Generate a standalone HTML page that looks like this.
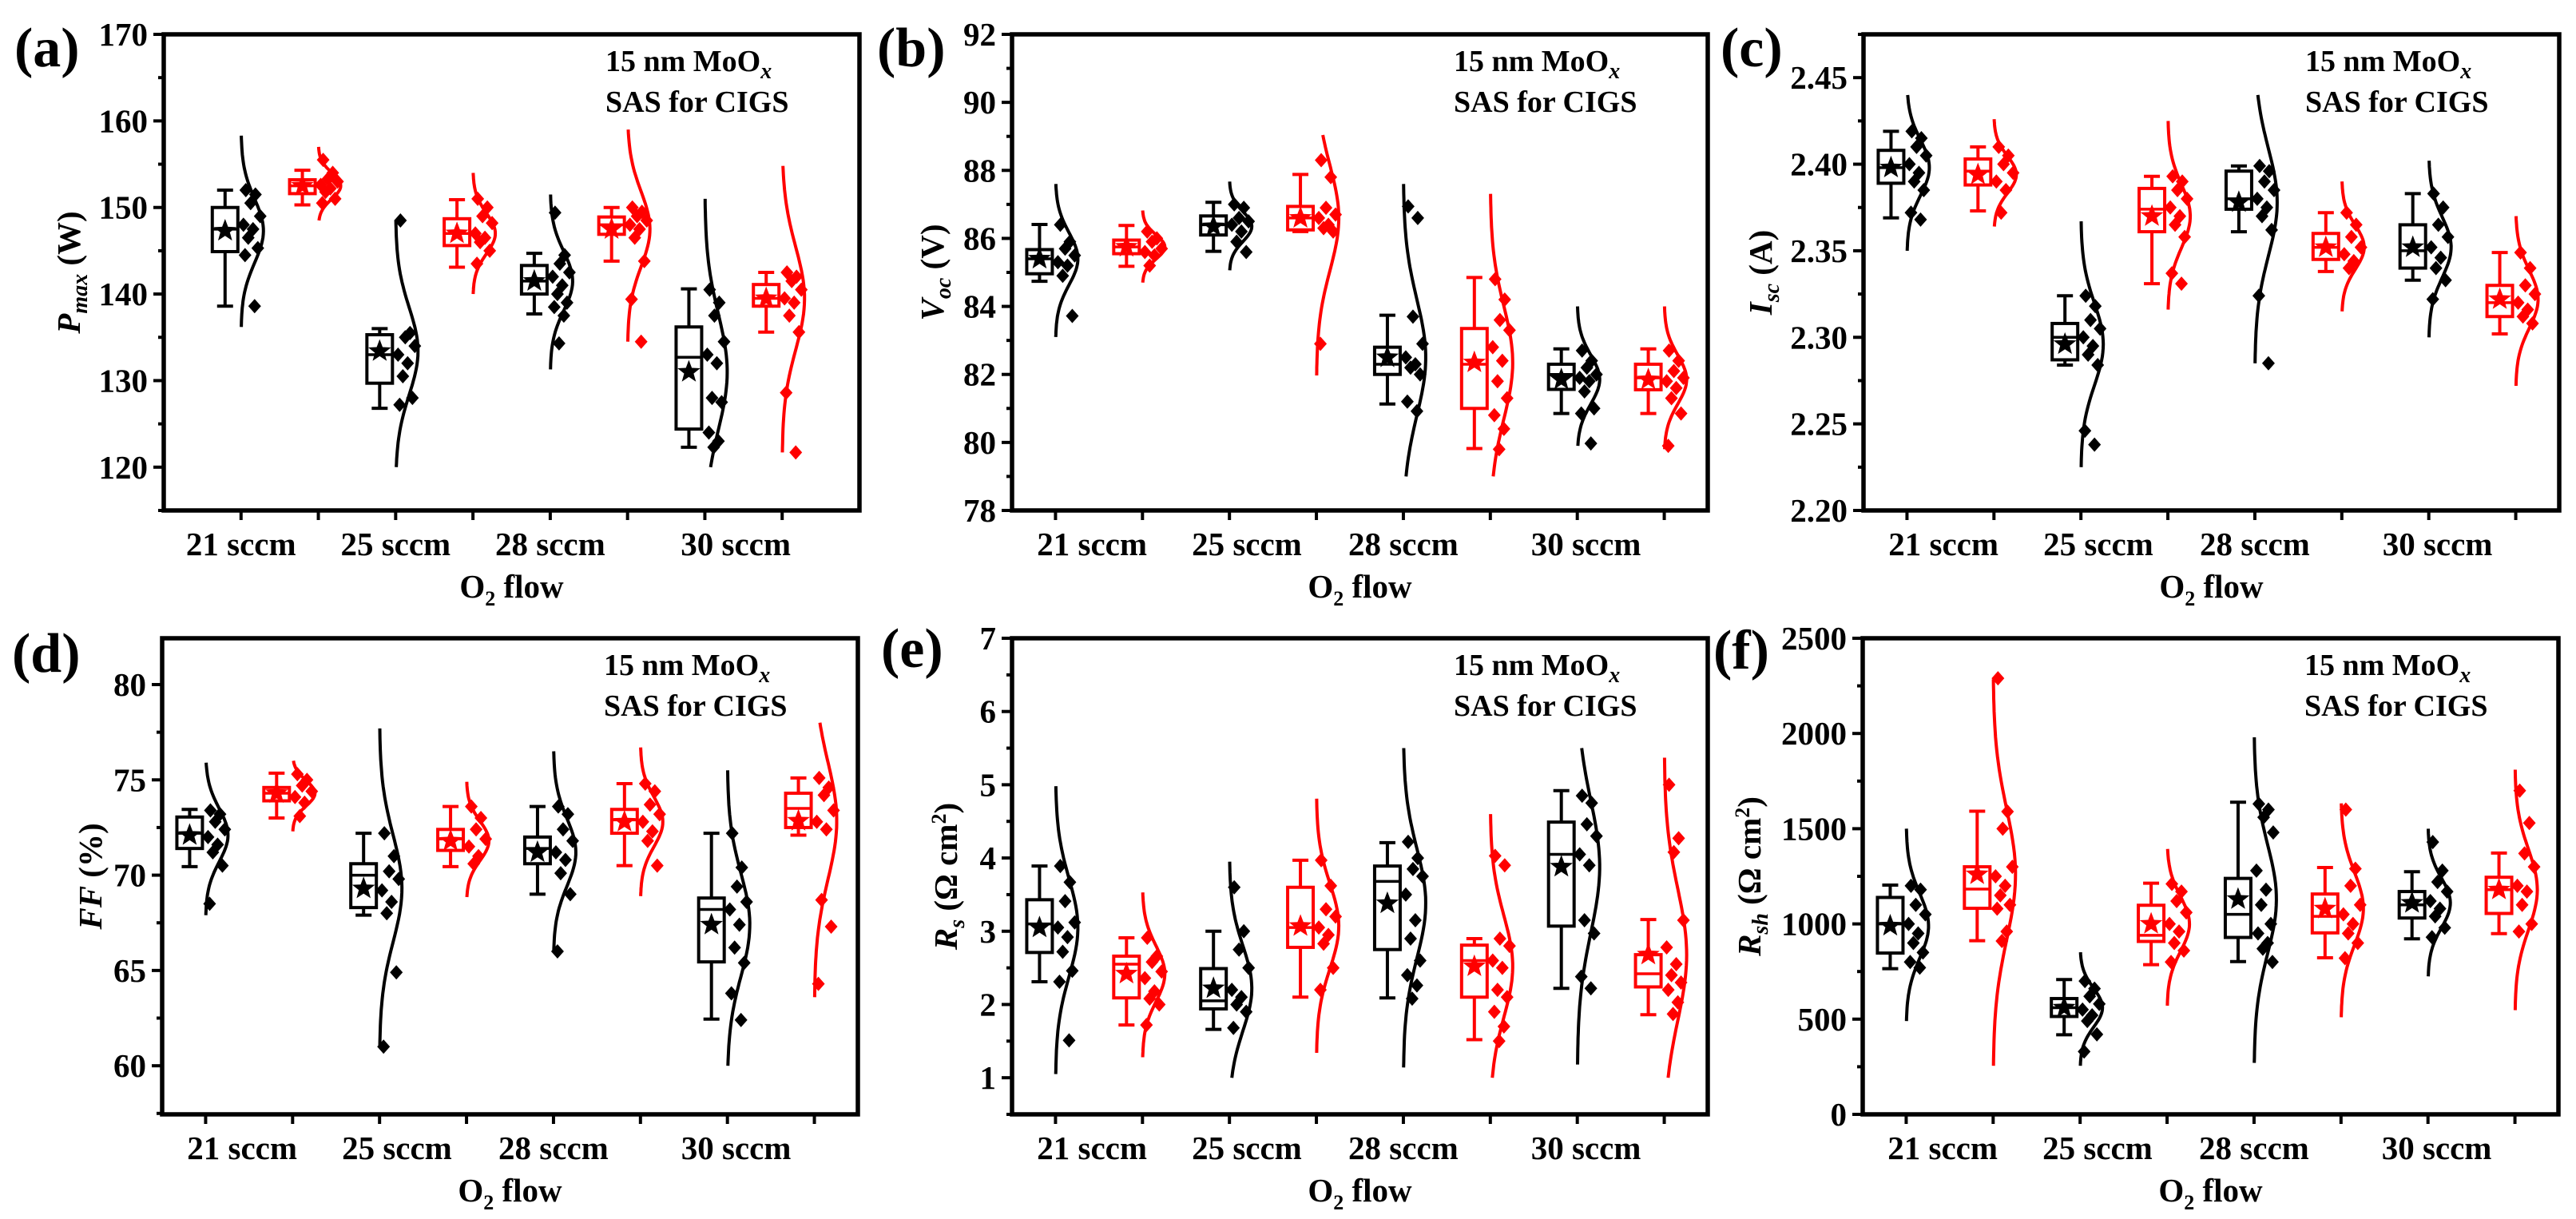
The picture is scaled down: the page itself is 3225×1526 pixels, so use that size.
<!DOCTYPE html>
<html><head><meta charset="utf-8"><title>O2 flow box plots</title>
<style>
html,body{margin:0;padding:0;background:#fff;}
svg{display:block;font-family:"Liberation Serif","DejaVu Serif",serif;font-weight:bold;}
</style></head>
<body>
<svg id="fig" xmlns="http://www.w3.org/2000/svg" width="3225" height="1526" viewBox="0 0 3225 1526"></svg>
<script>
// ---------- shared categories ----------
const categories = ["21 sccm","25 sccm","28 sccm","30 sccm"];
const seriesColors = ["#000000","#ff0000"]; // black = group 0, red = group 1 at each flow

// ---------- panel (a) Pmax ----------
const aQ1 = [144.9,151.6,129.7,145.6,140.0,146.9,124.4,138.6];
const aMed = [147.5,152.5,133.0,147.0,141.5,148.0,132.7,139.5];
const aQ3 = [150.0,153.2,135.3,148.7,143.3,148.9,136.2,141.1];
const aLo = [138.6,150.3,126.8,143.1,137.7,143.8,122.3,135.6];
const aHi = [152.0,154.3,136.0,150.9,144.7,150.0,140.6,142.5];
const aMean = [147.3,152.5,133.4,147.0,141.5,147.5,131.0,139.5];
const aPts = [[152,151.5,150.5,149,148,147.5,146.5,145.3,144.5,138.6],[155.5,154,153.3,153,152.6,152.2,151.8,151,150.5],[148.5,135.5,135,134,133,132,130.5,128,127.2],[151,150,149,148.2,147,146.5,146,145,143.5],[149.4,144.5,143.5,142.5,142,141,140,139,138.5,137.5,134.3],[150,149.5,149,148.5,148,147.5,146.5,143.8,139.4,134.5],[140.5,139,137.5,134.5,133,132,128,127.5,124,123,122.3],[142.5,142,141.5,140.5,139.5,139,137.5,135.6,128.6,121.7]];
const aCurveLo = [136.2,148.5,120.0,140.0,131.3,134.5,120.0,121.7];
const aCurveHi = [158.3,157.0,148.5,154.0,151.5,159.0,151.0,154.8];
const aTicks = ["120","130","140","150","160","170"];

// ---------- panel (b) Voc ----------
const bQ1 = [84.96,85.55,86.10,86.25,82.00,81.00,81.56,81.55];
const bMed = [85.4,85.75,86.4,86.6,82.3,82.3,82.0,81.9];
const bQ3 = [85.67,85.95,86.66,86.94,82.80,83.35,82.30,82.30];
const bLo = [84.74,85.18,85.62,86.20,81.13,79.82,80.85,80.85];
const bHi = [86.41,86.38,87.06,87.88,83.74,84.85,82.75,82.75];
const bMean = [85.4,85.75,86.35,86.6,82.5,82.35,81.85,81.85];
const bPts = [[86.4,85.9,85.7,85.5,85.3,85.2,84.9,83.72],[86.2,86.0,85.9,85.7,85.6,85.5,85.2],[87.0,86.9,86.6,86.5,86.4,86.2,85.9,85.6],[88.3,87.8,86.9,86.7,86.6,86.4,86.3,86.2,82.9],[86.94,86.6,83.7,82.9,82.5,82.3,82.2,82.0,81.2,80.92],[84.8,84.2,83.6,83.3,82.8,82.4,81.8,81.3,80.8,80.4,79.8],[82.7,82.4,82.2,82.0,81.9,81.8,81.5,81.0,80.85,79.97],[82.7,82.4,82.1,81.9,81.8,81.6,81.3,80.85,79.9]];
const bCurveLo = [83.1,84.7,85.06,81.97,79.0,79.0,79.9,79.8];
const bCurveHi = [87.6,86.82,87.67,89.04,87.6,87.31,84.0,84.0];
const bTicks = ["78","80","82","84","86","88","90","92"];

// ---------- panel (c) Isc ----------
const cQ1 = [2.389,2.388,2.287,2.361,2.374,2.345,2.340,2.312];
const cMed = [2.398,2.396,2.300,2.374,2.380,2.352,2.350,2.320];
const cQ3 = [2.408,2.403,2.308,2.386,2.396,2.360,2.365,2.330];
const cLo = [2.369,2.373,2.284,2.331,2.361,2.338,2.333,2.302];
const cHi = [2.419,2.410,2.324,2.393,2.399,2.372,2.383,2.349];
const cMean = [2.398,2.394,2.296,2.370,2.378,2.352,2.352,2.322];
const cPts = [[2.419,2.415,2.410,2.405,2.400,2.395,2.390,2.385,2.372,2.368],[2.410,2.405,2.400,2.395,2.390,2.385,2.372],[2.324,2.318,2.310,2.305,2.300,2.295,2.290,2.284,2.246,2.238],[2.393,2.390,2.385,2.380,2.375,2.370,2.365,2.358,2.337,2.331],[2.399,2.396,2.390,2.385,2.380,2.375,2.370,2.362,2.324,2.285],[2.372,2.365,2.358,2.352,2.348,2.344,2.340],[2.383,2.375,2.365,2.358,2.352,2.346,2.340,2.333,2.322],[2.349,2.340,2.330,2.325,2.320,2.316,2.312,2.308]];
const cCurveLo = [2.350,2.364,2.225,2.316,2.285,2.315,2.300,2.272];
const cCurveHi = [2.440,2.426,2.367,2.425,2.440,2.390,2.402,2.370];
const cTicks = ["2.20","2.25","2.30","2.35","2.40","2.45"];

// ---------- panel (d) FF ----------
const dQ1 = [71.4,73.9,68.3,71.3,70.6,72.2,65.45,72.5];
const dMed = [72.2,74.3,70.0,71.9,71.4,72.9,68.2,73.5];
const dQ3 = [73.05,74.6,70.6,72.4,72.0,73.45,68.8,74.3];
const dLo = [70.45,73.0,67.9,70.45,69.0,70.5,62.45,72.1];
const dHi = [73.45,75.35,72.2,73.6,73.6,74.8,72.2,75.1];
const dMean = [72.1,74.3,69.3,71.8,71.2,72.8,67.4,72.85];
const dPts = [[73.4,73.2,72.8,72.4,72.0,71.6,71.2,70.5,68.5],[75.3,75.0,74.7,74.4,74.1,73.8,73.1],[72.2,71.0,70.2,69.8,69.2,68.6,68.0,64.9,61.0],[73.6,73.0,72.4,71.9,71.5,71.0,70.6],[73.6,73.2,72.4,71.8,71.2,70.8,70.1,69.0,66.0],[74.8,74.4,73.7,73.2,72.8,72.3,71.8,70.5],[72.2,70.4,69.4,68.6,68.2,67.4,66.2,65.4,63.8,62.4],[75.1,74.6,74.2,73.4,72.8,72.4,68.7,67.3,64.3]];
const dCurveLo = [67.9,72.3,61.0,68.85,66.0,68.9,60.0,63.6];
const dCurveHi = [75.9,76.0,77.7,74.9,76.5,76.7,75.5,78.0];
const dTicks = ["60","65","70","75","80"];

// ---------- panel (e) Rs ----------
const eQ1 = [2.71,2.09,1.94,2.78,2.75,2.10,3.07,2.24];
const eMed = [3.10,2.55,2.05,3.05,3.68,2.60,4.05,2.42];
const eQ3 = [3.43,2.66,2.49,3.60,3.89,2.81,4.49,2.68];
const eLo = [2.31,1.72,1.66,2.10,2.09,1.52,2.22,1.86];
const eHi = [3.89,2.91,3.00,3.97,4.21,2.90,4.92,3.16];
const eMean = [3.05,2.42,2.22,3.07,3.38,2.52,3.88,2.68];
const ePts = [[3.89,3.67,3.41,3.12,3.05,2.92,2.72,2.46,2.31,1.51],[2.91,2.66,2.58,2.45,2.36,2.18,2.08,2.00,1.72],[3.60,3.00,2.75,2.50,2.20,2.10,2.00,1.90,1.68],[3.97,3.62,3.30,3.20,3.05,2.95,2.83,2.50,2.20],[4.22,4.00,3.85,3.75,3.50,3.15,2.90,2.60,2.40,2.26,2.08],[4.03,3.90,2.90,2.80,2.60,2.50,2.20,2.10,1.90,1.70,1.50],[4.85,4.75,4.46,4.30,4.05,3.90,3.15,2.97,2.38,2.22],[5.00,4.27,4.08,3.15,2.78,2.55,2.40,2.30,2.20,2.03,1.87]];
const eCurveLo = [1.05,1.28,1.00,1.34,1.14,1.00,1.18,1.00];
const eCurveHi = [4.98,3.53,3.95,4.81,5.50,4.60,5.50,5.37];
const eTicks = ["1","2","3","4","5","6","7"];

// ---------- panel (f) Rsh ----------
const fQ1 = [847,1082,514,908,929,953,1031,1055];
const fMed = [1000,1183,560,940,1050,1040,1100,1180];
const fQ3 = [1139,1300,608,1098,1239,1157,1170,1245];
const fLo = [765,912,418,786,802,822,922,949];
const fHi = [1204,1592,708,1214,1639,1296,1274,1372];
const fMean = [990,1260,560,1000,1130,1080,1110,1180];
const fPts = [[1200,1180,1100,1050,1000,950,900,850,800,770],[2290,1590,1500,1300,1250,1200,1150,1100,1080,960,910],[700,660,620,580,550,520,490,420,330],[1210,1170,1120,1060,1000,960,900,860,800],[1630,1600,1560,1480,1280,1180,1100,1000,950,900,870,800],[1600,1290,1200,1100,1050,1000,950,900,820],[1430,1280,1220,1170,1120,1080,1040,980,930],[1700,1530,1370,1300,1200,1170,1100,1000,960]];
const fCurveLo = [490,255,255,571,270,510,725,547];
const fCurveHi = [1500,2285,851,1394,1980,1633,1500,1810];
const fTicks = ["0","500","1000","1500","2000","2500"];

// ---------- drawing ----------
const NS = "http://www.w3.org/2000/svg";
const svg = document.getElementById("fig");
function el(tag, attrs, parent) {
  const e = document.createElementNS(NS, tag);
  for (const k in attrs) e.setAttribute(k, attrs[k]);
  (parent || svg).appendChild(e);
  return e;
}
const W = 871;
const jitter = [6,18,12,24,3,15,9,21,5,17,11,23];

function star(cx, cy, r) {
  let d = "";
  for (let k = 0; k < 10; k++) {
    const rr = k % 2 === 0 ? r : r * 0.42;
    const a = -Math.PI / 2 + k * Math.PI / 5;
    d += (k ? "L" : "M") + (cx + rr * Math.cos(a)).toFixed(1) + "," + (cy + rr * Math.sin(a)).toFixed(1);
  }
  return d + "Z";
}

function panel(p) {
  const g = el("g", {});
  
  
  const L = p.left, T = p.top, B = p.bottom;
  const xs = i => L + (i - p.xMin) / (p.xMax - p.xMin) * W;
  const ys = v => B - (v - p.yMin) / (p.yMax - p.yMin) * (B - T);

  const fr = el("rect", {x:L, y:T, width:W, height:B-T, fill:"none", stroke:"#000", "stroke-width":5.5}, g);
  
  

  const tickVals = p.ticks.map(Number);
  const step = tickVals[1] - tickVals[0];
  for (let v = tickVals[0] - step / 2; v <= p.yMax + 1e-9; v += step / 2) {
    if (v < p.yMin - 1e-9) continue;
    const isMajor = tickVals.some(t => Math.abs(t - v) < step * 0.01);
    const tk = el("line", {x1:L - (isMajor ? 13 : 7), x2:L, y1:ys(v), y2:ys(v), stroke:"#000", "stroke-width":4}, g);
    
    
  }
  p.ticks.forEach(t => {
    const tx = el("text", {x:L - 20, y:ys(Number(t)) + 14, "text-anchor":"end", "font-size":41}, g);
    tx.textContent = t;
    
    
  });

  for (let i = 0; i < 8; i++) {
    const tk = el("line", {x1:xs(i), x2:xs(i), y1:B, y2:B + 12, stroke:"#000", "stroke-width":4}, g);
    
    
  }
  categories.forEach((c, k) => {
    const tx = el("text", {x:xs(p.labelPos[k]), y:B + 56, "text-anchor":"middle", "font-size":41}, g);
    tx.textContent = c;
    
    
  });

  const xt = el("text", {x:L + W / 2, y:B + 109, "text-anchor":"middle", "font-size":41}, g);
  xt.innerHTML = 'O<tspan font-size="26" dy="10">2</tspan><tspan dy="-10"> flow</tspan>';
  
  

  const yc = (T + B) / 2, yx = L - p.titleOff;
  const yt = el("text", {x:yx, y:yc, "text-anchor":"middle", "font-size":41, transform:"rotate(-90 " + yx + " " + yc + ")", dy:14}, g);
  yt.innerHTML = p.yTitle;
  
  

  const pl = el("text", {x:L - p.letterOff, y:T + p.letterDy, "font-size":70}, g);
  pl.textContent = "(" + p.id + ")";
  
  

  const an1 = el("text", {x:L + 553, y:T + 46, "font-size":38}, g);
  an1.innerHTML = '15 nm MoO<tspan font-style="italic" font-size="28" dy="9">x</tspan>';
  
  
  const an2 = el("text", {x:L + 553, y:T + 97, "font-size":38}, g);
  an2.textContent = "SAS for CIGS";
  
  

  for (let i = 0; i < 8; i++) {
    const col = seriesColors[i % 2];
    const tx = xs(i);
    const bc = tx - 20, hw = 16;
    const grp = el("g", {}, g);
    
    

    const wk = el("path", {d:"M" + bc + "," + ys(p.hi[i]) + "V" + ys(p.q3[i]) + "M" + bc + "," + ys(p.q1[i]) + "V" + ys(p.lo[i]) +
      "M" + (bc - 10) + "," + ys(p.hi[i]) + "H" + (bc + 10) + "M" + (bc - 10) + "," + ys(p.lo[i]) + "H" + (bc + 10),
      stroke:col, "stroke-width":4, fill:"none"}, grp);
    
    
    const bx = el("rect", {x:bc - hw, y:ys(p.q3[i]), width:2 * hw, height:ys(p.q1[i]) - ys(p.q3[i]), fill:"#fff", stroke:col, "stroke-width":4}, grp);
    
    
    const md = el("line", {x1:bc - hw, x2:bc + hw, y1:ys(p.med[i]), y2:ys(p.med[i]), stroke:col, "stroke-width":3.5}, grp);
    
    
    const st = el("path", {d:star(bc, ys(p.mean[i]), 15), fill:col}, grp);
    
    

    const mu = p.mean[i];
    const sg = Math.max(mu - p.cLo[i], p.cHi[i] - mu) / 3;
    let d = "";
    const n = 60;
    for (let k = 0; k <= n; k++) {
      const v = p.cHi[i] - (p.cHi[i] - p.cLo[i]) * k / n;
      const x = tx + 28 * Math.exp(-Math.pow((v - mu) / sg, 2) / 2);
      d += (k ? "L" : "M") + x.toFixed(1) + "," + ys(v).toFixed(1);
    }
    const cv = el("path", {d:d, fill:"none", stroke:col, "stroke-width":4}, grp);
    
    

    p.pts[i].forEach((v, k) => {
      const px = tx + jitter[k % jitter.length], py = ys(v);
      const dm = el("path", {d:"M" + px + "," + (py - 9) + "L" + (px + 8) + "," + py + "L" + px + "," + (py + 9) + "L" + (px - 8) + "," + py + "Z", fill:col}, grp);
      
      
    });
  }
}

const pos2 = [0.42, 2.2, 4.0, 6.1];
panel({id:"a", left:205, top:43, bottom:639, xMin:-1, xMax:8, yMin:115, yMax:170, ticks:aTicks, labelPos:[0,2,4,6.4], titleOff:119, letterOff:187, letterDy:40,
  yTitle:'<tspan font-style="italic">P</tspan><tspan font-style="italic" font-size="28" dy="9">max</tspan><tspan dy="-9"> (W)</tspan>',
  q1:aQ1, med:aMed, q3:aQ3, lo:aLo, hi:aHi, mean:aMean, pts:aPts, cLo:aCurveLo, cHi:aCurveHi});
panel({id:"b", left:1267, top:43, bottom:639, xMin:-0.5, xMax:7.5, yMin:78, yMax:92, ticks:bTicks, labelPos:pos2, titleOff:100, letterOff:169, letterDy:40,
  yTitle:'<tspan font-style="italic">V</tspan><tspan font-style="italic" font-size="28" dy="9">oc</tspan><tspan dy="-9"> (V)</tspan>',
  q1:bQ1, med:bMed, q3:bQ3, lo:bLo, hi:bHi, mean:bMean, pts:bPts, cLo:bCurveLo, cHi:bCurveHi});
panel({id:"c", left:2333, top:43, bottom:639, xMin:-0.5, xMax:7.5, yMin:2.20, yMax:2.475, ticks:cTicks, labelPos:pos2, titleOff:129, letterOff:179, letterDy:40,
  yTitle:'<tspan font-style="italic">I</tspan><tspan font-style="italic" font-size="28" dy="9">sc</tspan><tspan dy="-9"> (A)</tspan>',
  q1:cQ1, med:cMed, q3:cQ3, lo:cLo, hi:cHi, mean:cMean, pts:cPts, cLo:cCurveLo, cHi:cCurveHi});
panel({id:"d", left:203, top:799, bottom:1395, xMin:-0.5, xMax:7.5, yMin:57.45, yMax:82.43, ticks:dTicks, labelPos:pos2, titleOff:90, letterOff:188, letterDy:42,
  yTitle:'<tspan font-style="italic">FF</tspan> (%)',
  q1:dQ1, med:dMed, q3:dQ3, lo:dLo, hi:dHi, mean:dMean, pts:dPts, cLo:dCurveLo, cHi:dCurveHi});
panel({id:"e", left:1267, top:799, bottom:1395, xMin:-0.5, xMax:7.5, yMin:0.5, yMax:7.0, ticks:eTicks, labelPos:pos2, titleOff:83, letterOff:164, letterDy:36,
  yTitle:'<tspan font-style="italic">R</tspan><tspan font-style="italic" font-size="28" dy="9">s</tspan><tspan dy="-9"> (Ω cm</tspan><tspan font-size="26" dy="-14">2</tspan><tspan dy="14">)</tspan>',
  q1:eQ1, med:eMed, q3:eQ3, lo:eLo, hi:eHi, mean:eMean, pts:ePts, cLo:eCurveLo, cHi:eCurveHi});
panel({id:"f", left:2332, top:799, bottom:1395, xMin:-0.5, xMax:7.5, yMin:0, yMax:2500, ticks:fTicks, labelPos:pos2, titleOff:142, letterOff:187, letterDy:38,
  yTitle:'<tspan font-style="italic">R</tspan><tspan font-style="italic" font-size="28" dy="9">sh</tspan><tspan dy="-9"> (Ω cm</tspan><tspan font-size="26" dy="-14">2</tspan><tspan dy="14">)</tspan>',
  q1:fQ1, med:fMed, q3:fQ3, lo:fLo, hi:fHi, mean:fMean, pts:fPts, cLo:fCurveLo, cHi:fCurveHi});
</script>
</body></html>
